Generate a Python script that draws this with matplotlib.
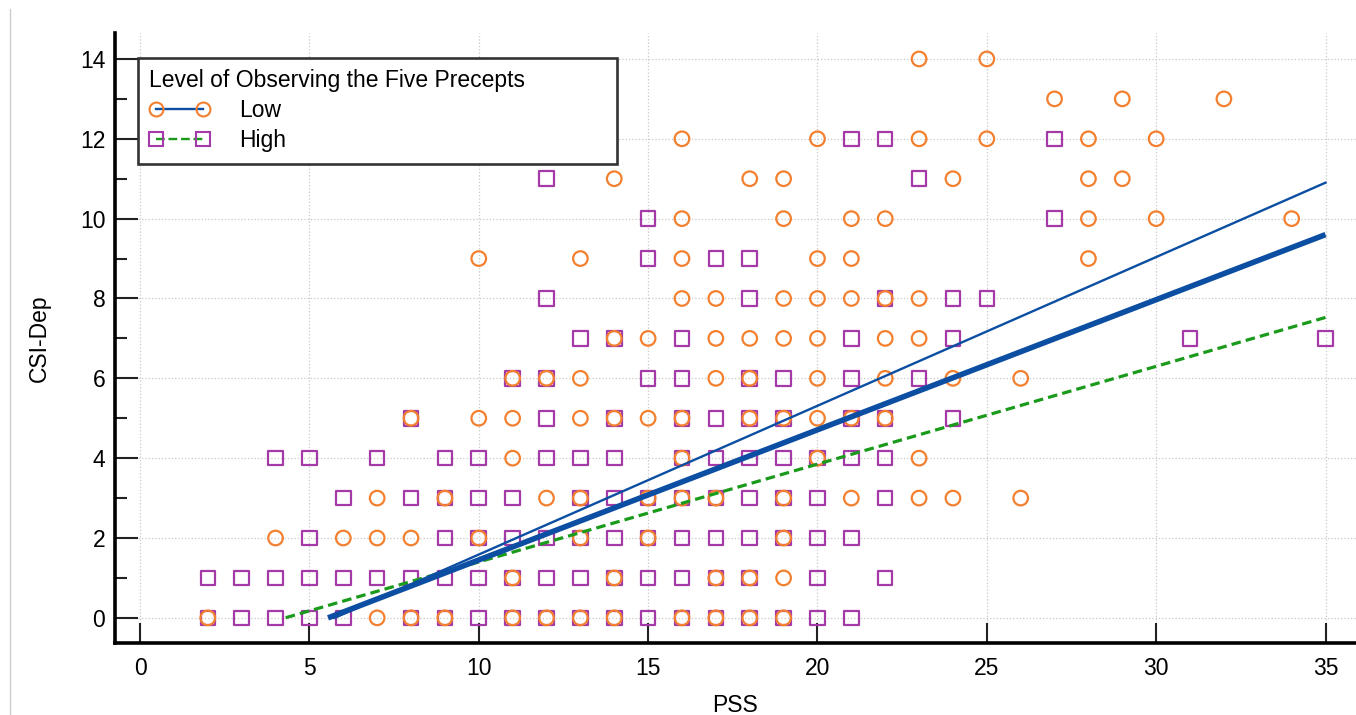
import numpy as np
import matplotlib
matplotlib.use('Agg')
import matplotlib.pyplot as plt
from matplotlib.lines import Line2D
from matplotlib.ticker import MultipleLocator

plt.rcParams['font.family'] = ['Liberation Sans', 'DejaVu Sans']

# Low level of observing the five precepts (circles), read row by row (CSI-Dep 0..14)
low_pss = [2, 7, 8, 9, 11, 12, 13, 14, 16, 17, 18, 19,
           11, 14, 17, 18, 19,
           4, 6, 7, 8, 10, 13, 15, 19,
           7, 9, 12, 13, 15, 16, 17, 19, 21, 23, 24, 26,
           11, 16, 20, 23,
           8, 10, 11, 13, 14, 15, 16, 18, 19, 20, 21, 22,
           11, 12, 13, 17, 18, 20, 22, 24, 26,
           14, 15, 17, 18, 19, 20, 22, 23,
           16, 17, 19, 20, 21, 22, 23,
           10, 13, 16, 20, 21, 28,
           16, 19, 21, 22, 28, 30, 34,
           14, 18, 19, 24, 28, 29,
           16, 20, 23, 25, 28, 30,
           27, 29, 32,
           23, 25]
low_dep = [0, 0, 0, 0, 0, 0, 0, 0, 0, 0, 0, 0,
           1, 1, 1, 1, 1,
           2, 2, 2, 2, 2, 2, 2, 2,
           3, 3, 3, 3, 3, 3, 3, 3, 3, 3, 3, 3,
           4, 4, 4, 4,
           5, 5, 5, 5, 5, 5, 5, 5, 5, 5, 5, 5,
           6, 6, 6, 6, 6, 6, 6, 6, 6,
           7, 7, 7, 7, 7, 7, 7, 7,
           8, 8, 8, 8, 8, 8, 8,
           9, 9, 9, 9, 9, 9,
           10, 10, 10, 10, 10, 10, 10,
           11, 11, 11, 11, 11, 11,
           12, 12, 12, 12, 12, 12,
           13, 13, 13,
           14, 14]

# High level (squares)
high_pss = [2, 3, 4, 5, 6, 8, 9, 10, 11, 12, 13, 14, 15, 16, 17, 18, 19, 20, 21,
            2, 3, 4, 5, 6, 7, 8, 9, 10, 11, 12, 13, 14, 15, 16, 17, 18, 20, 22,
            5, 9, 10, 11, 12, 13, 14, 15, 16, 17, 18, 19, 20, 21,
            6, 8, 9, 10, 11, 13, 14, 15, 16, 17, 18, 19, 20, 22,
            4, 5, 7, 9, 10, 12, 13, 14, 16, 17, 18, 19, 20, 21, 22,
            8, 12, 14, 16, 17, 18, 19, 21, 22, 24,
            11, 12, 15, 16, 18, 19, 21, 23,
            13, 14, 16, 21, 24, 31, 35,
            12, 18, 22, 24, 25,
            15, 17, 18,
            15, 27,
            12, 23,
            21, 22, 27]
high_dep = [0, 0, 0, 0, 0, 0, 0, 0, 0, 0, 0, 0, 0, 0, 0, 0, 0, 0, 0,
            1, 1, 1, 1, 1, 1, 1, 1, 1, 1, 1, 1, 1, 1, 1, 1, 1, 1, 1,
            2, 2, 2, 2, 2, 2, 2, 2, 2, 2, 2, 2, 2, 2,
            3, 3, 3, 3, 3, 3, 3, 3, 3, 3, 3, 3, 3, 3,
            4, 4, 4, 4, 4, 4, 4, 4, 4, 4, 4, 4, 4, 4, 4,
            5, 5, 5, 5, 5, 5, 5, 5, 5, 5,
            6, 6, 6, 6, 6, 6, 6, 6,
            7, 7, 7, 7, 7, 7, 7,
            8, 8, 8, 8, 8,
            9, 9, 9,
            10, 10,
            11, 11,
            12, 12, 12]

# regression fits: (intercept, slope, x start, x end)
fit_low = (-2.14, 0.3726, 5.74, 35)
fit_all = (-1.81, 0.326, 5.55, 35)
fit_high = (-1.05, 0.245, 4.3, 35)

orange = '#F3802F'
purple = '#A43AA8'
blue = '#0B4EA2'
green = '#1A9A1A'

W, H = 1356, 715
fig = plt.figure(figsize=(W / 100, H / 100), dpi=100)
ax = fig.add_axes([115 / W, 72 / H, 1241 / W, 610 / H])

ax.scatter(high_pss, high_dep, marker='s', s=110, facecolors='none',
           edgecolors=purple, linewidths=1.6, zorder=3)
ax.scatter(low_pss, low_dep, marker='o', s=110, facecolors='none',
           edgecolors=orange, linewidths=1.6, zorder=4)

def fit_line(fit):
    b0, b1, x0, x1 = fit
    xs = np.array([x0, x1])
    return xs, b0 + b1 * xs

xs, ys = fit_line(fit_high)
ax.plot(xs, ys, color=green, lw=2.3, ls=(0, (3, 1.6)), zorder=5)
xs, ys = fit_line(fit_low)
ax.plot(xs, ys, color=blue, lw=1.7, zorder=6)
xs, ys = fit_line(fit_all)
ax.plot(xs, ys, color=blue, lw=4, zorder=6, solid_capstyle='butt')

ax.set_xlim(-0.74, 35.9)
ax.set_ylim(-0.63, 14.65)
ax.xaxis.set_major_locator(MultipleLocator(5))
ax.yaxis.set_major_locator(MultipleLocator(2))
ax.yaxis.set_minor_locator(MultipleLocator(1))

ax.tick_params(axis='y', which='major', direction='in', length=16.5, width=1.5,
               pad=7, labelsize=16.5, color='#222222')
ax.tick_params(axis='y', which='minor', direction='in', length=8.6, width=1.5,
               color='#222222')
ax.tick_params(axis='x', which='major', direction='in', length=14.4, width=1.5,
               pad=10, labelsize=16.5, color='#222222')

for side in ['top', 'right']:
    ax.spines[side].set_visible(False)
for side in ['left', 'bottom']:
    ax.spines[side].set_linewidth(2.6)
    ax.spines[side].set_color('black')

ax.grid(True, which='major', color='#c8c8c8', linestyle=':', linewidth=0.9)
ax.set_axisbelow(True)

ax.set_xlabel('PSS', fontsize=16.5, labelpad=10)
ax.set_ylabel('CSI-Dep', fontsize=16.5, labelpad=21)

h_low = Line2D([], [], color=blue, lw=1.7, marker='o', ms=10, mfc='none',
               mec=orange, mew=1.5)
h_high = Line2D([], [], color=green, lw=1.7, ls='--', marker='s', ms=9.5,
                mfc='none', mec=purple, mew=1.5)
leg = ax.legend([h_low, h_high], ['Low', 'High'],
                title='Level of Observing the Five Precepts',
                loc='upper left', bbox_to_anchor=(0.0185, 0.5, 0.386, 0.459),
                mode='expand', borderaxespad=0, numpoints=2, fontsize=16.5,
                title_fontsize=16.5, alignment='left', fancybox=False,
                framealpha=1, edgecolor='#333333', handlelength=2.65,
                handletextpad=1.27, labelspacing=0.3, borderpad=0.5)
leg.get_frame().set_linewidth(1.9)
leg.set_zorder(10)

# faint page border on the left of the original figure
fig.add_artist(Line2D([10 / W, 10 / W], [0, 1 - 9 / H], transform=fig.transFigure,
                      color='#cccccc', lw=1))

fig.savefig('out.png', dpi=100)
